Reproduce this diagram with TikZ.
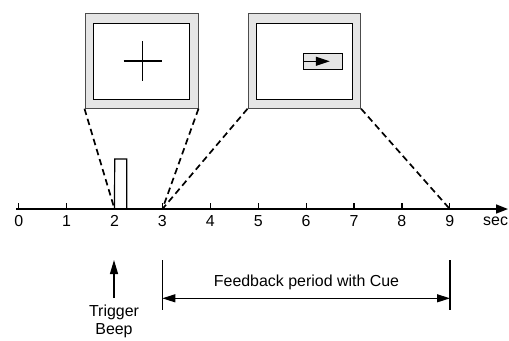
\documentclass[tikz,border=0pt]{standalone}
\usepackage{fontspec}
\setmainfont{Liberation Sans}
\usetikzlibrary{arrows.meta,calc}
\begin{document}
\begin{tikzpicture}[x=1bp,y=-1bp,
  lbl/.style={inner sep=0pt,font=\fontsize{16}{18}\selectfont},
  frameout/.style={draw=black!70,fill=black!10,line width=1bp,minimum width=113bp,minimum height=95bp,inner sep=0pt},
  framein/.style={draw=black,fill=white,line width=1.2bp,minimum width=96bp,minimum height=76bp,inner sep=0pt},
  axisline/.style={line width=1.6bp},
  dashline/.style={line width=1.7bp,dash pattern=on 6.5bp off 4bp},
]
\useasboundingbox (0,0) rectangle (509,340);
% ticks coordinates
\foreach \i in {0,...,9}{
  \coordinate (t\i) at ({18.7+\i*47.9},209);
}
% axis
\coordinate (axs) at (16,209);
\coordinate (axe) at (508,209);
\draw[axisline,-{Triangle[length=12bp,width=9bp]}] (axs) -- (axe);
\foreach \i in {0,...,9}{
  \draw[line width=1.2bp] (t\i) -- ++(0,-6.5);
  \node[lbl,anchor=center] (n\i) at ($(t\i)+(0,12)$) {\i};
}
\node[lbl,anchor=west] (sec) at (483,221) {sec};
% boxes
\node[frameout] (b1) at (141.5,60.7) {};
\node[framein] (b1i) at (141.3,61.3) {};
\node[frameout,minimum width=112.5bp] (b2) at (304.3,60.7) {};
\node[framein] (b2i) at (304.3,61.3) {};
% cross
\coordinate (cx) at (142.7,61);
\draw[line width=1.5bp] ($(cx)+(-19,0)$) -- ($(cx)+(19,0)$);
\draw[line width=1.5bp] ($(cx)+(0,-20)$) -- ($(cx)+(0,20)$);
% cue
\node[draw=black,fill=black!10,line width=1.1bp,minimum width=39.4bp,minimum height=16bp,inner sep=0pt] (cue) at (323,61.3) {};
\draw[line width=1.2bp,-{Triangle[length=14bp,width=9bp]}] (cue.west) -- ($(cue.west)+(27,0)$);
% pulse
\draw[line width=1.2bp] (t2) -- (114.7,159) -- (126.7,159) -- (126.7,209);
% dashed zoom lines
\draw[dashline] (b1.south west) -- (t2);
\draw[dashline] (b1.south east) -- (t3);
\draw[dashline] (b2.south west) -- (t3);
\draw[dashline] (b2.south east) -- (t9);
% feedback bracket
\coordinate (fl) at (162.3,298.3);
\coordinate (fr) at (450,298.3);
\draw[line width=1.1bp] ($(fl)+(0,-38)$) -- ($(fl)+(0,12)$);
\draw[line width=1.1bp] ($(fr)+(0,-38)$) -- ($(fr)+(0,12)$);
\draw[line width=1.1bp,{Triangle[length=13bp,width=8bp]}-{Triangle[length=13bp,width=8bp]}] (fl) -- (fr);
\node[lbl] (fb) at (306.5,282) {Feedback period with Cue};
% trigger
\coordinate (tra) at (114,298);
\coordinate (trb) at (114,260);
\draw[line width=1.1bp,-{Triangle[length=14bp,width=8bp]}] (tra) -- (trb);
\node[lbl,align=center,font=\fontsize{16}{18.5}\selectfont,anchor=north] (trig) at (114,304.5) {Trigger\\Beep};
\end{tikzpicture}
\end{document}
